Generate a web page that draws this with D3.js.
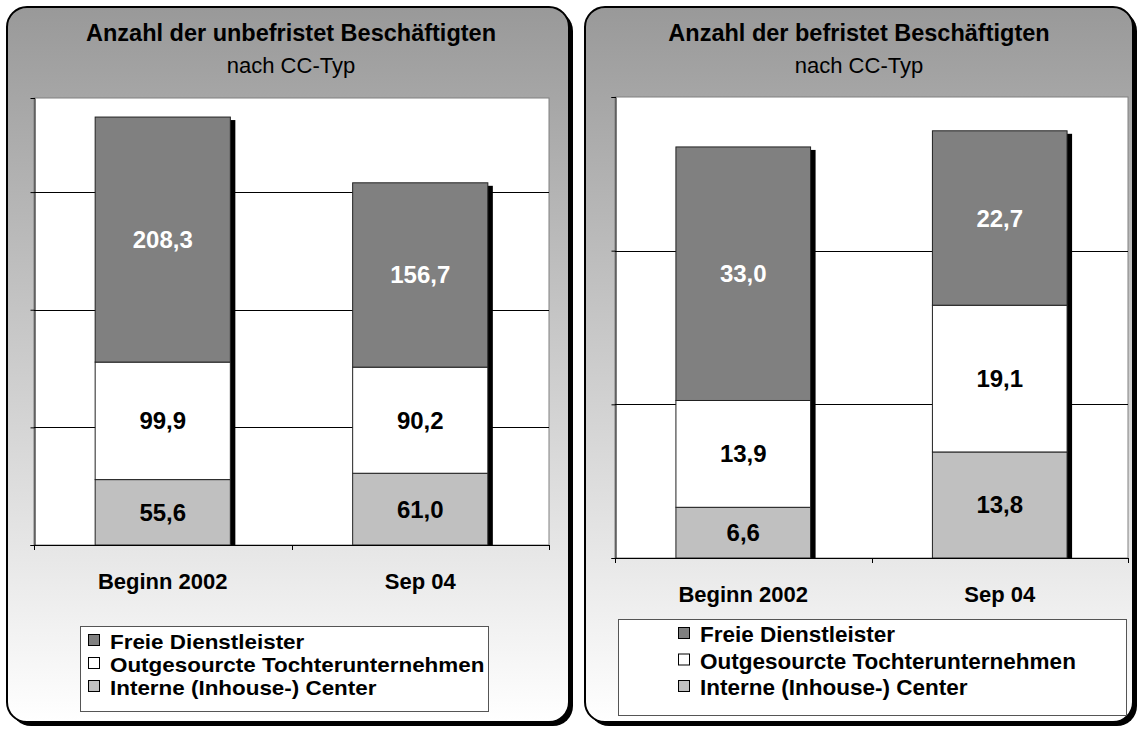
<!DOCTYPE html>
<meta charset="utf-8">
<script src="https://d3js.org/d3.v7.min.js"></script>
<style>
  body { margin: 0; background: #fff; }
  svg { display: block; font-family: "Liberation Sans", Arial, sans-serif; }
</style>
<body>
<div id="chart"></div>
<script>
// categories and series
var categories = ["Beginn 2002", "Sep 04"];
var seriesNames = ["Interne (Inhouse-) Center", "Outgesourcte Tochterunternehmen", "Freie Dienstleister"];
var seriesColors = ["#c0c0c0", "#ffffff", "#808080"];

// unbefristet Beschäftigte (bottom -> top)
var unbefInterne = [55.6, 61.0];
var unbefOutgesourcte = [99.9, 90.2];
var unbefFreie = [208.3, 156.7];
var unbefTicks = [0, 100, 200, 300];
var unbefMax = 380;

// befristet Beschäftigte
var befInterne = [6.6, 13.8];
var befOutgesourcte = [13.9, 19.1];
var befFreie = [33.0, 22.7];
var befTicks = [0, 20, 40, 60];
var befMax = 60;

var de = d3.formatLocale({decimal: ",", thousands: ".", grouping: [3], currency: ["", "€"]});
var fmt = de.format(".1f");

var svg = d3.select("#chart").append("svg")
  .attr("width", 1140)
  .attr("height", 729);

var defs = svg.append("defs");
var grad = defs.append("linearGradient")
  .attr("id", "panelGrad")
  .attr("x1", 0).attr("y1", 0).attr("x2", 0).attr("y2", 1);
grad.append("stop").attr("offset", "0%").attr("stop-color", "#999999");
grad.append("stop").attr("offset", "100%").attr("stop-color", "#ffffff");

function drawPanel(cfg) {
  var g = svg.append("g");

  // panel shadow + panel
  g.append("rect")
    .attr("x", cfg.px + 4).attr("y", cfg.py + 4)
    .attr("width", cfg.pw).attr("height", cfg.ph)
    .attr("rx", 20).attr("fill", "#000");
  g.append("rect")
    .attr("x", cfg.px).attr("y", cfg.py)
    .attr("width", cfg.pw).attr("height", cfg.ph)
    .attr("rx", 20)
    .attr("fill", "url(#panelGrad)")
    .attr("stroke", "#000").attr("stroke-width", 2);

  // titles
  g.append("text")
    .attr("x", cfg.tx).attr("y", 41)
    .attr("text-anchor", "middle")
    .style("font-size", "23.5px").style("font-weight", "bold")
    .text(cfg.title);
  g.append("text")
    .attr("x", cfg.tx).attr("y", 73)
    .attr("text-anchor", "middle")
    .style("font-size", "22px")
    .text("nach CC-Typ");

  var x = d3.scaleBand()
    .domain(categories)
    .range([cfg.left, cfg.right])
    .padding(0);

  var y = d3.scaleLinear()
    .domain([0, cfg.max])
    .range([cfg.bottom, cfg.top]);

  // plot area
  g.append("rect")
    .attr("x", cfg.left).attr("y", cfg.top)
    .attr("width", cfg.right - cfg.left).attr("height", cfg.bottom - cfg.top)
    .attr("fill", "#fff")
    .attr("stroke", "#808080").attr("stroke-width", 1);

  // gridlines
  g.append("g")
    .selectAll("line")
    .data(cfg.ticks.filter(function (t) { return t > 0 && t < cfg.max; }))
    .enter()
    .append("line")
      .attr("x1", cfg.left).attr("x2", cfg.right)
      .attr("y1", function (d) { return Math.round(y(d)) + 0.5; })
      .attr("y2", function (d) { return Math.round(y(d)) + 0.5; })
      .attr("stroke", "#000").attr("stroke-width", 1);

  // stacked data
  var rows = categories.map(function (c, i) {
    return { cat: c, v: [cfg.data[0][i], cfg.data[1][i], cfg.data[2][i]] };
  });
  var segs = [];
  rows.forEach(function (r) {
    var acc = 0;
    r.v.forEach(function (v, k) {
      segs.push({ cat: r.cat, k: k, y0: acc, y1: acc + v, v: v });
      acc += v;
    });
    r.total = acc;
  });

  var bw = x.bandwidth() * 0.525;
  var bx = function (c) { return x(c) + (x.bandwidth() - bw) / 2; };

  // bar shadows
  g.append("g")
    .selectAll("rect")
    .data(rows)
    .enter()
    .append("rect")
      .attr("x", function (d) { return bx(d.cat) + 5; })
      .attr("y", function (d) { return y(d.total) + 3; })
      .attr("width", bw)
      .attr("height", function (d) { return cfg.bottom - y(d.total) - 3; })
      .attr("fill", "#000");

  // bar segments
  g.append("g")
    .selectAll("rect")
    .data(segs)
    .enter()
    .append("rect")
      .attr("x", function (d) { return bx(d.cat); })
      .attr("y", function (d) { return y(d.y1); })
      .attr("width", bw)
      .attr("height", function (d) { return y(d.y0) - y(d.y1); })
      .attr("fill", function (d) { return seriesColors[d.k]; })
      .attr("stroke", "#222").attr("stroke-width", 1);

  // value labels
  g.append("g")
    .selectAll("text")
    .data(segs)
    .enter()
    .append("text")
      .attr("x", function (d) { return bx(d.cat) + bw / 2; })
      .attr("y", function (d) { return (y(d.y0) + y(d.y1)) / 2 + 8.5; })
      .attr("text-anchor", "middle")
      .style("font-size", "24px").style("font-weight", "bold")
      .attr("fill", function (d) { return d.k === 2 ? "#fff" : "#000"; })
      .text(function (d) { return fmt(d.v); });

  // y axis
  var yAxis = d3.axisLeft(y).tickValues(cfg.ticks).tickSize(4).tickFormat("");
  var ya = g.append("g")
    .attr("transform", "translate(" + (cfg.left + 0.5) + ",0)")
    .call(yAxis);
  ya.select(".domain").attr("stroke", "#000");
  ya.selectAll(".tick line").attr("stroke", "#000");

  // x axis line + boundary ticks
  g.append("line")
    .attr("x1", cfg.left).attr("x2", cfg.right)
    .attr("y1", cfg.bottom + 0.5).attr("y2", cfg.bottom + 0.5)
    .attr("stroke", "#000").attr("stroke-width", 1.2);
  var bounds = categories.map(function (c) { return x(c); }).concat([cfg.right]);
  g.append("g")
    .selectAll("line")
    .data(bounds)
    .enter()
    .append("line")
      .attr("x1", function (d) { return Math.round(d) + 0.5; })
      .attr("x2", function (d) { return Math.round(d) + 0.5; })
      .attr("y1", cfg.bottom).attr("y2", cfg.bottom + 5)
      .attr("stroke", "#000");

  // category labels
  g.append("g")
    .selectAll("text")
    .data(categories)
    .enter()
    .append("text")
      .attr("x", function (d) { return x(d) + x.bandwidth() / 2; })
      .attr("y", cfg.bottom + 44)
      .attr("text-anchor", "middle")
      .style("font-size", "22px").style("font-weight", "bold")
      .text(function (d) { return d; });

  // legend
  var lg = g.append("g");
  lg.append("rect")
    .attr("x", cfg.lx).attr("y", cfg.ly)
    .attr("width", cfg.lw).attr("height", cfg.lh)
    .attr("fill", "#fff").attr("stroke", "#555").attr("stroke-width", 1);
  var order = [2, 1, 0];
  lg.selectAll("g.item")
    .data(order)
    .enter()
    .append("g")
      .attr("class", "item")
      .each(function (k, i) {
        var it = d3.select(this);
        var base = cfg.lbase + i * cfg.lstep;
        it.append("rect")
          .attr("x", cfg.sx + 0.5).attr("y", base - 14.5)
          .attr("width", 11).attr("height", 11)
          .attr("fill", seriesColors[k]).attr("stroke", "#000");
        it.append("text")
          .attr("transform", "translate(" + (cfg.sx + 22) + "," + base + ") scale(" + cfg.lscale + ",1)")
          .style("font-size", cfg.lfont + "px").style("font-weight", "bold")
          .text(seriesNames[k]);
      });
}

drawPanel({
  px: 7, py: 7, pw: 562, ph: 715, tx: 291,
  title: "Anzahl der unbefristet Beschäftigten",
  left: 34, right: 549, top: 98, bottom: 545,
  max: unbefMax, ticks: unbefTicks,
  data: [unbefInterne, unbefOutgesourcte, unbefFreie],
  lx: 80.5, ly: 626.5, lw: 408, lh: 85, lbase: 649, lstep: 23, sx: 88,
  lfont: 19.5, lscale: 1.15
});

drawPanel({
  px: 585, py: 7, pw: 548, ph: 715, tx: 859,
  title: "Anzahl der befristet Beschäftigten",
  left: 615, right: 1128, top: 97, bottom: 558,
  max: befMax, ticks: befTicks,
  data: [befInterne, befOutgesourcte, befFreie],
  lx: 618.5, ly: 619.5, lw: 508, lh: 96, lbase: 642, lstep: 26.5, sx: 678,
  lfont: 22.5, lscale: 1
});
</script>
</body>
